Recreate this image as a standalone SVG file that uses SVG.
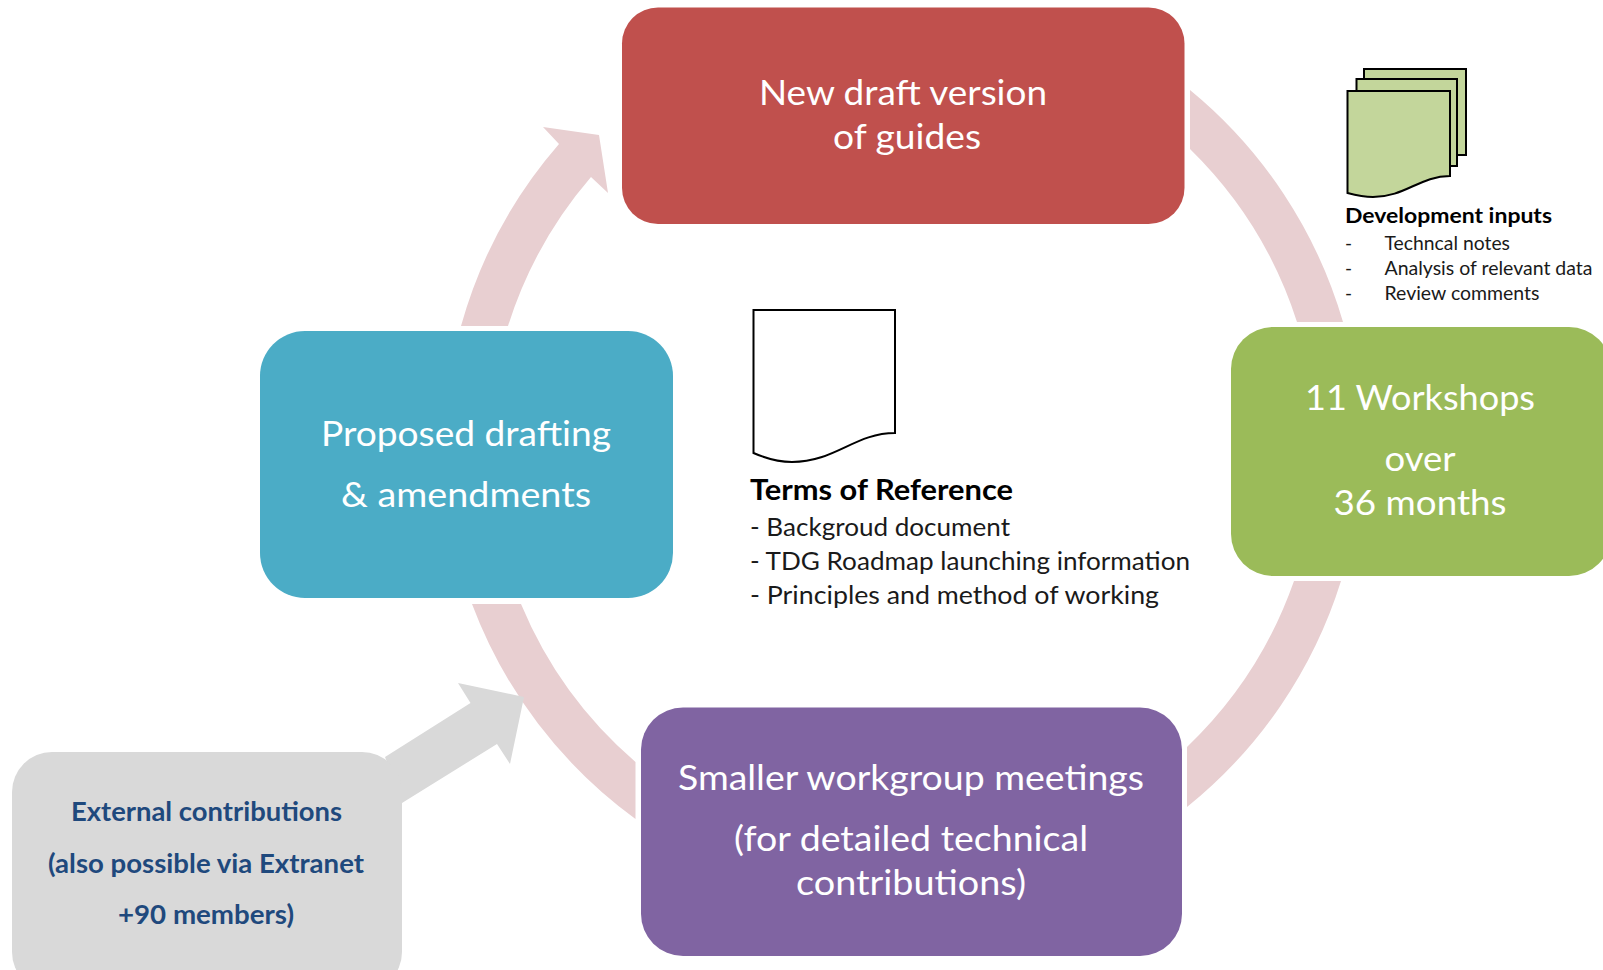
<svg xmlns="http://www.w3.org/2000/svg" width="1603" height="970" viewBox="0 0 1603 970">
<style>
text{font-family:"Lato","Carlito","Liberation Sans",sans-serif}
.m{font-size:35px;fill:#fff;text-anchor:middle}
.e{font-size:26.500px;font-weight:700;fill:#1F497D;text-anchor:middle}
.th{font-size:28px;font-weight:700;fill:#000}
.t{font-size:25px;fill:#1a1a1a}
.dh{font-size:20.500px;font-weight:700;fill:#000}
.d{font-size:19px;fill:#1a1a1a}
.arc{fill:#E8CFD1}
.doc{stroke:#000;stroke-width:2;stroke-linejoin:miter}
</style>
<rect width="1603" height="970" fill="#fff"/>
<g id="connectors">
<path class="arc" d="M1190 90A470 470 0 0 1 1343 322H1297A423 423 0 0 0 1190 149Z"/>
<path class="arc" d="M1341 581A470 470 0 0 1 1187 807V747A423 423 0 0 0 1294 581Z"/>
<path class="arc" d="M635.500 819A470 470 0 0 1 472 604H521A423 423 0 0 0 635.500 762Z"/>
<path class="arc" d="M461 326A470 470 0 0 1 559 144L543 127L599 135L608 193L591 177A423 423 0 0 0 508 326Z"/>
<path fill="#D9D9D9" d="M385 757L470.500 703L458 683L524 697L510 764L497 744L402 803Z"/>
</g>
<g id="node-draft">
<rect x="622" y="7.500" width="562.500" height="216.500" rx="36" fill="#C0504D"/>
<text class="m" x="903" y="105" textLength="288" lengthAdjust="spacingAndGlyphs">New draft version</text>
<text class="m" x="907" y="149" textLength="148" lengthAdjust="spacingAndGlyphs">of guides</text>
</g>
<g id="node-workshops">
<rect x="1231" y="327" width="380" height="249" rx="42" fill="#9BBB59"/>
<text class="m" x="1420" y="410" textLength="230" lengthAdjust="spacingAndGlyphs">11 Workshops</text>
<text class="m" x="1420" y="471" textLength="71" lengthAdjust="spacingAndGlyphs">over</text>
<text class="m" x="1420" y="515" textLength="173" lengthAdjust="spacingAndGlyphs">36 months</text>
</g>
<g id="node-meetings">
<rect x="641" y="707.500" width="541" height="248.500" rx="42" fill="#8064A2"/>
<text class="m" x="911" y="790" textLength="466" lengthAdjust="spacingAndGlyphs">Smaller workgroup meetings</text>
<text class="m" x="911" y="851" textLength="354" lengthAdjust="spacingAndGlyphs">(for detailed technical</text>
<text class="m" x="911" y="895" textLength="230" lengthAdjust="spacingAndGlyphs">contributions)</text>
</g>
<g id="node-proposed">
<rect x="260" y="331" width="413" height="267" rx="45" fill="#4BACC6"/>
<text class="m" x="466" y="446" textLength="290" lengthAdjust="spacingAndGlyphs">Proposed drafting</text>
<text class="m" x="466" y="507" textLength="250" lengthAdjust="spacingAndGlyphs">&amp; amendments</text>
</g>
<g id="node-external">
<rect x="12" y="752" width="390" height="240" rx="40" fill="#D9D9D9"/>
<text class="e" x="206.500" y="821" textLength="271" lengthAdjust="spacingAndGlyphs">External contributions</text>
<text class="e" x="206" y="873" textLength="316" lengthAdjust="spacingAndGlyphs">(also possible via Extranet</text>
<text class="e" x="206" y="924" textLength="176" lengthAdjust="spacingAndGlyphs">+90 members)</text>
</g>
<g id="node-terms">
<path class="doc" fill="#fff" d="M753.500 310H895V433C855 433 835 462 792 462C778 462 765 458 753.500 453Z"/>
<text class="th" x="750" y="500" textLength="263" lengthAdjust="spacingAndGlyphs">Terms of Reference</text>
<text class="t" x="750" y="536" textLength="260" lengthAdjust="spacingAndGlyphs">- Backgroud document</text>
<text class="t" x="750" y="570" textLength="440" lengthAdjust="spacingAndGlyphs">- TDG Roadmap launching information</text>
<text class="t" x="750" y="604" textLength="409" lengthAdjust="spacingAndGlyphs">- Principles and method of working</text>
</g>
<g id="node-inputs">
<path class="doc" fill="#C3D69B" d="M1364 79V69H1466V155H1457"/>
<path class="doc" fill="#C3D69B" d="M1356.500 91V79H1457V166H1450"/>
<path class="doc" fill="#C3D69B" d="M1347.500 91H1450V176C1420 176 1405 197 1373 197C1363 197 1355 195 1347.500 193Z"/>
<text class="dh" x="1345" y="223" textLength="207" lengthAdjust="spacingAndGlyphs">Development inputs</text>
<text class="d" x="1345" y="250">-</text><text class="d" x="1384.500" y="250" textLength="125.500" lengthAdjust="spacingAndGlyphs">Techncal notes</text>
<text class="d" x="1345" y="275">-</text><text class="d" x="1384.500" y="275" textLength="208" lengthAdjust="spacingAndGlyphs">Analysis of relevant data</text>
<text class="d" x="1345" y="300">-</text><text class="d" x="1384.500" y="300" textLength="155" lengthAdjust="spacingAndGlyphs">Review comments</text>
</g>
</svg>
